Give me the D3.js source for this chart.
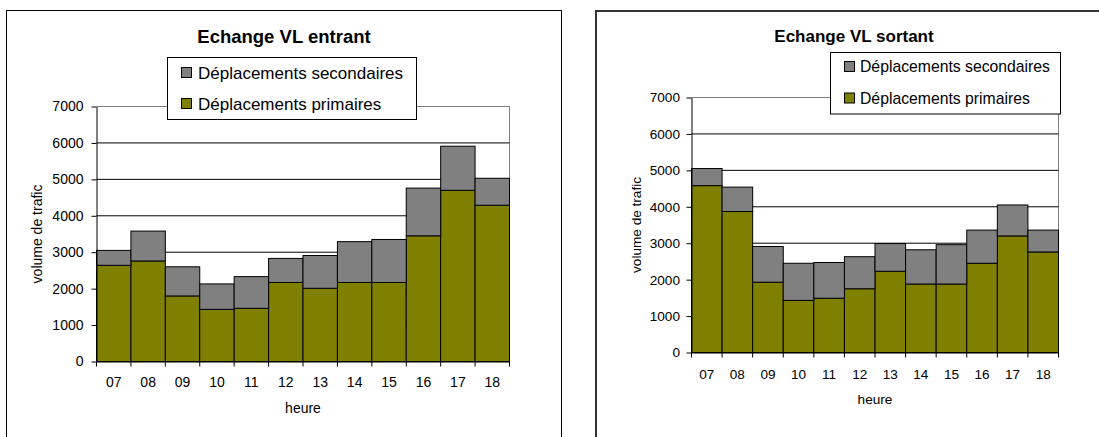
<!DOCTYPE html>
<html>
<head>
<meta charset="utf-8">
<script src="https://cdn.jsdelivr.net/npm/d3@7"></script>
<style>
  body { margin: 0; background: #fff; }
  svg { display: block; font-family: "Liberation Sans", Arial, sans-serif; }
</style>
</head>
<body>
<svg id="chart" width="1099" height="437"></svg>
<script>
// Hours of the day (x categories)
const heures = ["07", "08", "09", "10", "11", "12", "13", "14", "15", "16", "17", "18"];

// Echange VL entrant
const entrantPrimaires   = [2640, 2760, 1800, 1430, 1460, 2170, 2010, 2170, 2170, 3450, 4700, 4290];
const entrantSecondaires = [410, 820, 800, 700, 870, 660, 900, 1120, 1180, 1310, 1210, 740];

// Echange VL sortant
const sortantPrimaires   = [4580, 3870, 1930, 1430, 1490, 1750, 2230, 1880, 1880, 2450, 3200, 2760];
const sortantSecondaires = [470, 670, 980, 1020, 980, 880, 760, 940, 1080, 910, 850, 600];

// Value axis ticks
const yTicks = [0, 1000, 2000, 3000, 4000, 5000, 6000, 7000];

const seriesNames = ["Déplacements secondaires", "Déplacements primaires"];
const colors = { primaires: "#808000", secondaires: "#808080" };

const svg = d3.select("#chart");

function drawChart(cfg, primaires, secondaires) {
  const g = svg.append("g");

  // outer frame
  g.append("rect")
    .attr("x", cfg.frame.x).attr("y", cfg.frame.y)
    .attr("width", cfg.frame.w).attr("height", 460)
    .attr("fill", "#fff")
    .attr("stroke", cfg.frame.stroke).attr("stroke-width", cfg.frame.sw);

  const x = d3.scaleBand().domain(heures).range([cfg.plot.x0, cfg.plot.x1]).padding(0);
  const y = d3.scaleLinear().domain([0, d3.max(yTicks)]).range([cfg.plot.y1, cfg.plot.y0]);

  // plot-area border (top and right), grey
  g.append("path")
    .attr("d", `M${cfg.plot.x0},${y(7000)}H${cfg.plot.x1}V${y(0)}`)
    .attr("fill", "none").attr("stroke", "#808080").attr("stroke-width", 1);

  // horizontal gridlines
  g.append("g").selectAll("line")
    .data(yTicks.filter(t => t > 0 && t < 7000))
    .join("line")
    .attr("x1", cfg.plot.x0).attr("x2", cfg.plot.x1)
    .attr("y1", d => y(d)).attr("y2", d => y(d))
    .attr("stroke", "#000").attr("stroke-width", 1);

  // stacked bars
  const rows = heures.map((h, i) => ({ heure: h, primaires: primaires[i], secondaires: secondaires[i] }));
  const stacked = d3.stack().keys(["primaires", "secondaires"])(rows);
  g.append("g").selectAll("g")
    .data(stacked)
    .join("g")
    .attr("fill", s => colors[s.key])
    .selectAll("rect")
    .data(s => s)
    .join("rect")
    .attr("x", d => x(d.data.heure))
    .attr("width", x.bandwidth())
    .attr("y", d => y(d[1]))
    .attr("height", d => y(d[0]) - y(d[1]))
    .attr("stroke", "#000").attr("stroke-width", 1);

  // value axis
  const yAxis = g.append("g")
    .attr("transform", `translate(${cfg.plot.x0},0)`)
    .call(d3.axisLeft(y).tickValues(yTicks).tickSize(5).tickSizeOuter(0).tickPadding(cfg.yPad).tickFormat(d3.format("d")));
  yAxis.select(".domain").attr("stroke", "#000");
  yAxis.selectAll(".tick line").attr("stroke", "#000");
  yAxis.selectAll("text").attr("font-size", cfg.tickSize).attr("fill", "#000")
    .attr("font-family", "Liberation Sans, Arial, sans-serif");

  // category axis: labels centred in bands, tick marks on band edges
  const xAxis = g.append("g")
    .attr("transform", `translate(0,${cfg.plot.y1})`)
    .call(d3.axisBottom(x).tickSize(0).tickSizeOuter(0).tickPadding(cfg.xPad));
  xAxis.select(".domain").attr("stroke", "#000");
  xAxis.selectAll("text").attr("font-size", cfg.tickSize).attr("fill", "#000")
    .attr("font-family", "Liberation Sans, Arial, sans-serif");
  const edges = heures.map(h => x(h)).concat([x(heures[heures.length - 1]) + x.bandwidth()]);
  xAxis.selectAll("line.edge")
    .data(edges)
    .join("line")
    .attr("class", "edge")
    .attr("x1", d => d).attr("x2", d => d)
    .attr("y1", 0).attr("y2", 5)
    .attr("stroke", "#000");

  // axis titles
  g.append("text")
    .attr("x", (cfg.plot.x0 + cfg.plot.x1) / 2).attr("y", cfg.xTitleY)
    .attr("text-anchor", "middle").attr("font-size", cfg.tickSize)
    .text("heure");
  g.append("text")
    .attr("transform", `translate(${cfg.yTitleX},${(cfg.plot.y0 + cfg.plot.y1) / 2}) rotate(-90)`)
    .attr("text-anchor", "middle").attr("dy", "0.35em").attr("font-size", cfg.tickSize)
    .text("volume de trafic");

  // chart title
  g.append("text")
    .attr("x", cfg.title.x).attr("y", cfg.title.y)
    .attr("text-anchor", "middle").attr("font-weight", "bold").attr("font-size", cfg.title.size)
    .text(cfg.title.text);

  // legend
  const lg = g.append("g");
  lg.append("rect")
    .attr("x", cfg.legend.x).attr("y", cfg.legend.y)
    .attr("width", cfg.legend.w).attr("height", cfg.legend.h)
    .attr("fill", "#fff").attr("stroke", "#000").attr("stroke-width", 1);
  const items = [
    { name: seriesNames[0], color: colors.secondaires },
    { name: seriesNames[1], color: colors.primaires }
  ];
  const item = lg.selectAll("g.item").data(items).join("g").attr("class", "item")
    .attr("transform", (d, i) => `translate(0,${cfg.legend.rowY[i]})`);
  item.append("rect")
    .attr("x", cfg.legend.swX).attr("y", -5)
    .attr("width", 10).attr("height", 10)
    .attr("fill", d => d.color).attr("stroke", "#000");
  item.append("text")
    .attr("x", cfg.legend.textX).attr("dy", "0.36em")
    .attr("font-size", cfg.legend.size)
    .text(d => d.name);
}

drawChart({
  frame: { x: 6.5, y: 10.5, w: 555, stroke: "#000", sw: 1 },
  plot: { x0: 96.5, x1: 509.5, y0: 106.5, y1: 361.5 },
  title: { x: 284, y: 42.5, size: 18.5, text: "Echange VL entrant" },
  legend: { x: 167.5, y: 57.5, w: 249, h: 62, rowY: [72.5, 103.5], swX: 181.5, textX: 198, size: 17 },
  tickSize: 14, yPad: 8, xPad: 16, xTitleY: 412.5, yTitleX: 37
}, entrantPrimaires, entrantSecondaires);

drawChart({
  frame: { x: 596, y: 11, w: 520, stroke: "#333", sw: 2 },
  plot: { x0: 691.5, x1: 1058.5, y0: 97.5, y1: 352.5 },
  title: { x: 854, y: 42, size: 17, text: "Echange VL sortant" },
  legend: { x: 830.5, y: 52.5, w: 230, h: 61.5, rowY: [66.5, 98], swX: 844.5, textX: 860, size: 15.75 },
  tickSize: 13.6, yPad: 6.5, xPad: 16.5, xTitleY: 403.5, yTitleX: 636.5
}, sortantPrimaires, sortantSecondaires);
</script>
</body>
</html>
